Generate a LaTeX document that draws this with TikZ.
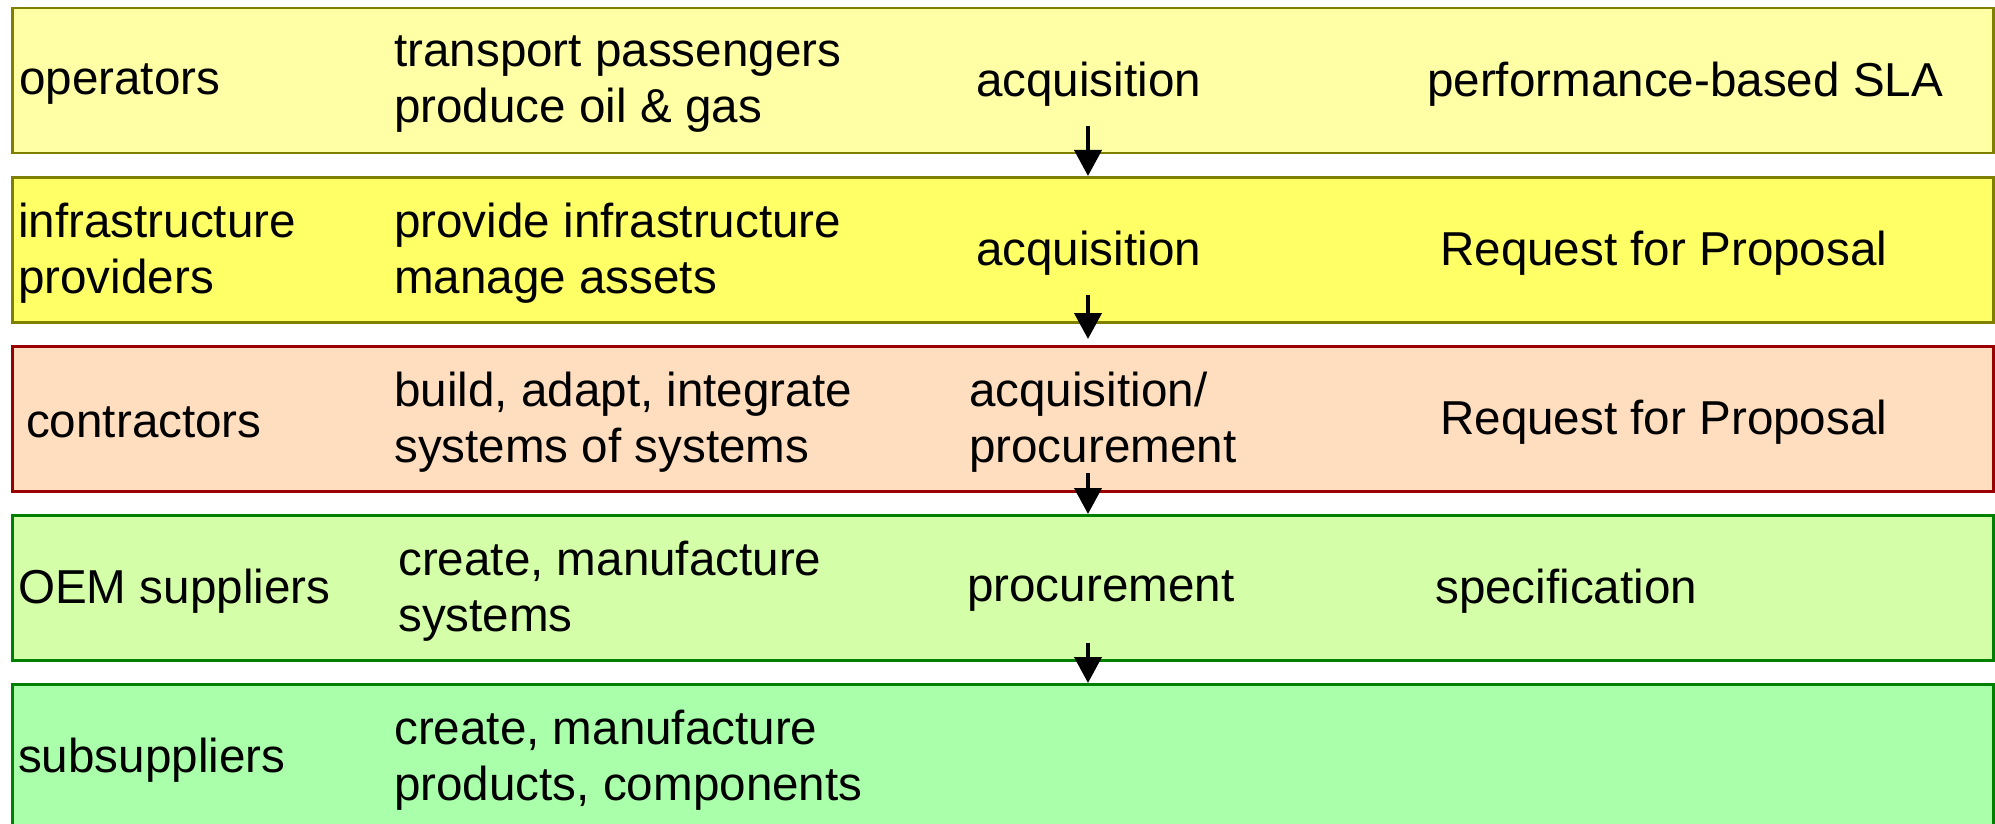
\documentclass[tikz,border=0pt]{standalone}
\usepackage{fontspec}
\setmainfont{Liberation Sans}
\usetikzlibrary{arrows.meta}
\definecolor{f1}{HTML}{FFFFA6}
\definecolor{f2}{HTML}{FFFF66}
\definecolor{f3}{HTML}{FFDEC0}
\definecolor{f4}{HTML}{D4FFA8}
\definecolor{f5}{HTML}{AAFFAA}
\definecolor{dolive}{HTML}{808000}
\definecolor{dred}{HTML}{990000}
\definecolor{dgreen}{HTML}{008000}
\tikzset{
  band/.style={anchor=north west, minimum width=1981pt, minimum height=145pt, line width=2.5pt, inner sep=0pt},
  txt/.style={anchor=west, align=left, inner sep=0pt, yshift=-5pt, font=\fontsize{47.6}{56}\selectfont},
  arr/.style={line width=4pt, -{Triangle[length=26pt,width=27pt]}}
}
\begin{document}
\begin{tikzpicture}[x=1pt,y=-1pt]
\useasboundingbox (0,0) rectangle (1995,824);
\clip (0,0) rectangle (1995,824);
\node[band, fill=f1, draw=dolive] (b1) at (11,7) {};
\node[band, fill=f2, draw=dolive] (b2) at (11,176) {};
\node[band, fill=f3, draw=dred] (b3) at (11,345) {};
\node[band, fill=f4, draw=dgreen] (b4) at (11,514) {};
\node[band, fill=f5, draw=dgreen, minimum height=155pt] (b5) at (11,683) {};
% row 1
\node[txt] (r1a) at (19,79.5) {operators};
\node[txt] (r1b) at (394,79.5) {transport passengers\\produce oil \& gas};
\node[txt] (r1c) at (976,79.5) {acquisition};
\node[txt] (r1d) at (1427,79.5) {performance-based SLA};
% row 2
\node[txt] (r2a) at (18,248.5) {infrastructure\\providers};
\node[txt] (r2b) at (394,248.5) {provide infrastructure\\manage assets};
\node[txt] (r2c) at (976,248.5) {acquisition};
\node[txt] (r2d) at (1440,248.5) {Request for Proposal};
% row 3
\node[txt] (r3a) at (26,417.5) {contractors};
\node[txt] (r3b) at (394,417.5) {build, adapt, integrate\\systems of systems};
\node[txt] (r3c) at (969,417.5) {acquisition/\\procurement};
\node[txt] (r3d) at (1440,417.5) {Request for Proposal};
% row 4
\node[txt] (r4a) at (18,586.5) {OEM suppliers};
\node[txt] (r4b) at (398,586.5) {create, manufacture\\systems};
\node[txt] (r4c) at (967,586.5) {procurement};
\node[txt] (r4d) at (1435,586.5) {specification};
% row 5
\node[txt] (r5a) at (18,755.5) {subsuppliers};
\node[txt] (r5b) at (394,755.5) {create, manufacture\\products, components};
% arrows
\coordinate (s1) at (1088,126);
\coordinate (s2) at (1088,295);
\coordinate (s3) at (1088,473);
\coordinate (s4) at (1088,643);
\coordinate (e2) at (1088,339);
\draw[arr] (s1) -- (s1 |- b2.north);
\draw[arr] (s2) -- (e2);
\draw[arr] (s3) -- (s3 |- b4.north);
\draw[arr] (s4) -- (s4 |- b5.north);
\end{tikzpicture}
\end{document}
